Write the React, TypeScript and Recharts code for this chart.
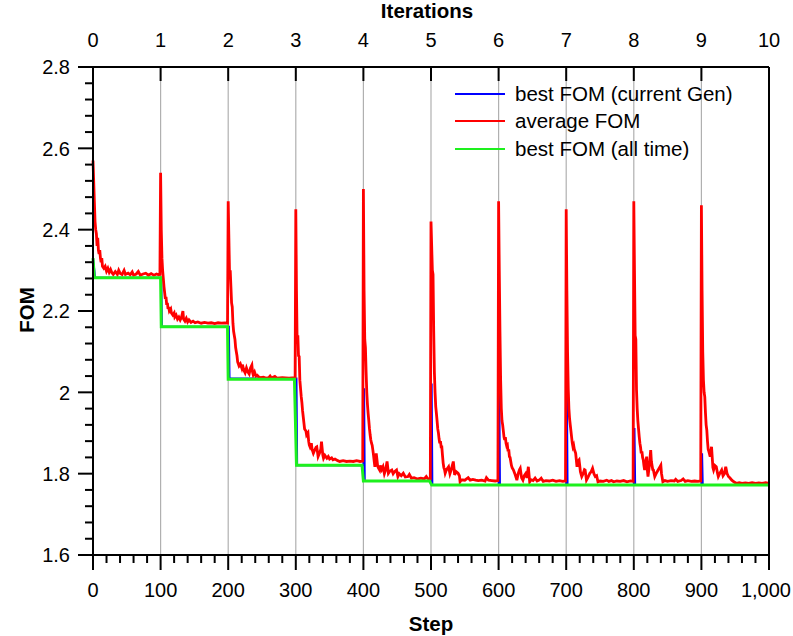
import React from 'react';
import { LineChart, Line, XAxis, YAxis, ReferenceLine } from 'recharts';

// step / FOM pairs
const AVG_FOM = [
  // gen 0
  [0, 2.57], [1, 2.52], [2, 2.47], [3, 2.42], [4, 2.4], [5, 2.39], [6, 2.36], [7, 2.38], [8, 2.35], [9, 2.34],
  [10, 2.35], [11, 2.33], [12, 2.32], [13, 2.33], [14, 2.31], [16, 2.305], [18, 2.31], [20, 2.298], [22, 2.305],
  [24, 2.295], [26, 2.302], [28, 2.294], [30, 2.29], [33, 2.297], [36, 2.29], [38, 2.3], [40, 2.293], [43, 2.29],
  [46, 2.3], [48, 2.29], [52, 2.293], [55, 2.289], [58, 2.296], [60, 2.288], [64, 2.291], [67, 2.297], [70, 2.288],
  [74, 2.291], [78, 2.293], [82, 2.288], [86, 2.292], [90, 2.288], [94, 2.291], [97, 2.289], [99, 2.29],
  // gen 1
  [100, 2.54], [101, 2.4], [102, 2.33], [103, 2.3], [104, 2.28], [105, 2.26], [106, 2.245], [107, 2.23],
  [108, 2.235], [109, 2.215], [110, 2.22], [111, 2.205], [112, 2.21], [113, 2.2], [115, 2.205], [116, 2.195],
  [118, 2.19], [120, 2.195], [121, 2.185], [123, 2.19], [125, 2.18], [127, 2.185], [129, 2.178], [131, 2.185],
  [133, 2.2], [134, 2.18], [136, 2.175], [138, 2.182], [140, 2.173], [142, 2.178], [145, 2.172], [148, 2.175],
  [151, 2.171], [155, 2.173], [160, 2.17], [165, 2.172], [170, 2.17], [175, 2.171], [180, 2.169], [185, 2.171],
  [190, 2.17], [195, 2.171], [199, 2.17],
  // gen 2
  [200, 2.47], [201, 2.38], [202, 2.29], [203, 2.3], [204, 2.26], [205, 2.22], [206, 2.21], [207, 2.17],
  [208, 2.15], [209, 2.14], [210, 2.13], [211, 2.11], [212, 2.1], [213, 2.09], [214, 2.075], [215, 2.07],
  [216, 2.065], [218, 2.07], [220, 2.06], [221, 2.068], [223, 2.055], [225, 2.048], [227, 2.06], [229, 2.05],
  [231, 2.045], [233, 2.06], [235, 2.067], [236, 2.05], [237, 2.043], [239, 2.05], [241, 2.04], [243, 2.042],
  [245, 2.038], [248, 2.036], [252, 2.037], [256, 2.035], [260, 2.036], [262, 2.04], [264, 2.035], [269, 2.039],
  [272, 2.035], [280, 2.036], [290, 2.035], [299, 2.036],
  // gen 3
  [300, 2.45], [301, 2.25], [302, 2.12], [303, 2.14], [304, 2.09], [305, 2.088], [306, 2.03], [307, 2.01],
  [308, 1.99], [309, 1.975], [310, 1.955], [311, 1.94], [312, 1.925], [313, 1.91], [315, 1.905], [316, 1.895],
  [318, 1.9], [319, 1.88], [320, 1.87], [321, 1.866], [323, 1.875], [324, 1.86], [326, 1.85], [328, 1.858],
  [330, 1.865], [331, 1.866], [333, 1.842], [335, 1.85], [337, 1.86], [338, 1.879], [340, 1.845], [341, 1.838],
  [343, 1.845], [346, 1.838], [348, 1.842], [350, 1.836], [353, 1.839], [355, 1.834], [358, 1.836], [362, 1.832],
  [365, 1.83], [370, 1.832], [375, 1.83], [380, 1.831], [385, 1.83], [390, 1.832], [395, 1.83], [399, 1.831],
  // gen 4
  [400, 2.5], [401, 2.25], [402, 2.13], [403, 2.11], [404, 2.05], [405, 2.0], [406, 1.97], [407, 1.948],
  [408, 1.93], [409, 1.91], [410, 1.895], [411, 1.883], [412, 1.875], [413, 1.87], [414, 1.858], [415, 1.845],
  [416, 1.83], [417, 1.817], [418, 1.835], [419, 1.85], [420, 1.835], [421, 1.82], [422, 1.815], [424, 1.809],
  [425, 1.82], [427, 1.81], [429, 1.817], [431, 1.8], [433, 1.81], [435, 1.83], [437, 1.801], [439, 1.806],
  [442, 1.809], [444, 1.8], [446, 1.805], [449, 1.809], [451, 1.793], [453, 1.8], [456, 1.795], [459, 1.801],
  [462, 1.792], [466, 1.793], [468, 1.798], [471, 1.789], [475, 1.79], [480, 1.787], [485, 1.789], [490, 1.787],
  [493, 1.793], [495, 1.788], [499, 1.787],
  // gen 5
  [500, 2.42], [501, 2.36], [502, 2.3], [503, 2.29], [504, 2.15], [505, 2.05], [506, 2.0], [507, 1.965],
  [508, 1.948], [509, 1.93], [510, 1.91], [511, 1.9], [512, 1.885], [513, 1.875], [514, 1.88], [515, 1.866],
  [516, 1.866], [517, 1.845], [518, 1.826], [519, 1.815], [520, 1.81], [521, 1.801], [523, 1.81], [526, 1.817],
  [528, 1.8], [530, 1.81], [533, 1.83], [535, 1.797], [537, 1.805], [540, 1.801], [542, 1.795], [543, 1.78],
  [545, 1.785], [550, 1.784], [555, 1.79], [558, 1.784], [562, 1.786], [566, 1.784], [570, 1.783], [575, 1.784],
  [580, 1.782], [582, 1.79], [585, 1.784], [590, 1.783], [595, 1.782], [599, 1.783],
  // gen 6
  [600, 2.47], [601, 2.3], [602, 2.15], [603, 2.03], [604, 1.96], [605, 1.93], [606, 1.92], [607, 1.905],
  [608, 1.89], [609, 1.883], [610, 1.89], [611, 1.875], [612, 1.868], [613, 1.87], [614, 1.855], [615, 1.86],
  [616, 1.842], [617, 1.84], [618, 1.83], [619, 1.82], [620, 1.815], [622, 1.809], [624, 1.8], [626, 1.79],
  [627, 1.784], [629, 1.8], [631, 1.81], [632, 1.813], [634, 1.79], [636, 1.784], [638, 1.795], [640, 1.8],
  [642, 1.79], [644, 1.817], [646, 1.78], [648, 1.785], [651, 1.783], [654, 1.789], [657, 1.782], [660, 1.784],
  [663, 1.789], [666, 1.781], [670, 1.783], [675, 1.782], [680, 1.784], [685, 1.781], [690, 1.783], [695, 1.781],
  [699, 1.782],
  // gen 7
  [700, 2.45], [701, 2.25], [702, 2.1], [703, 2.01], [704, 1.96], [705, 1.935], [706, 1.92], [707, 1.905],
  [708, 1.89], [709, 1.875], [710, 1.866], [711, 1.87], [712, 1.86], [713, 1.855], [714, 1.85], [716, 1.817],
  [717, 1.83], [719, 1.834], [720, 1.82], [721, 1.805], [723, 1.793], [725, 1.8], [727, 1.81], [728, 1.809],
  [730, 1.784], [732, 1.79], [735, 1.801], [737, 1.805], [739, 1.813], [741, 1.8], [743, 1.793], [745, 1.795],
  [747, 1.78], [750, 1.782], [755, 1.781], [760, 1.784], [763, 1.781], [767, 1.783], [770, 1.78], [775, 1.782],
  [780, 1.781], [785, 1.783], [790, 1.78], [795, 1.782], [799, 1.781],
  // gen 8
  [800, 2.47], [801, 2.3], [802, 2.14], [803, 2.13], [804, 2.006], [805, 1.96], [806, 1.93], [807, 1.91],
  [808, 1.891], [809, 1.875], [810, 1.865], [811, 1.85], [812, 1.855], [813, 1.84], [814, 1.834], [815, 1.82],
  [816, 1.809], [818, 1.83], [819, 1.842], [820, 1.81], [821, 1.793], [823, 1.82], [825, 1.858], [826, 1.83],
  [828, 1.81], [829, 1.809], [831, 1.793], [833, 1.8], [836, 1.809], [838, 1.815], [840, 1.821], [841, 1.8],
  [843, 1.78], [846, 1.783], [850, 1.781], [855, 1.783], [860, 1.782], [862, 1.786], [865, 1.781], [870, 1.783],
  [873, 1.787], [876, 1.781], [880, 1.783], [885, 1.781], [890, 1.782], [895, 1.781], [899, 1.782],
  // gen 9
  [900, 2.46], [901, 2.25], [902, 2.1], [903, 2.03], [904, 2.0], [905, 1.989], [906, 1.95], [907, 1.92],
  [908, 1.907], [909, 1.88], [910, 1.86], [911, 1.855], [913, 1.842], [914, 1.855], [915, 1.866], [916, 1.84],
  [917, 1.815], [918, 1.809], [920, 1.82], [922, 1.817], [924, 1.8], [925, 1.793], [927, 1.8], [930, 1.809],
  [932, 1.795], [934, 1.8], [936, 1.817], [938, 1.8], [940, 1.793], [942, 1.79], [945, 1.784], [948, 1.78],
  [952, 1.776], [956, 1.778], [960, 1.776], [965, 1.777], [970, 1.776], [975, 1.778], [980, 1.776], [985, 1.777],
  [990, 1.776], [995, 1.778], [1000, 1.776],
];

const BEST_GEN_FOM = [
  [0, 2.33], [2, 2.3], [3, 2.282], [101, 2.282], [102, 2.161], [201, 2.161], [202, 2.034], [301, 2.034],
  [302, 1.821], [400, 1.821], [401, 2.01], [402, 1.782], [500, 1.782], [501, 2.022], [502, 1.772], [600, 1.772],
  [601, 2.03], [602, 1.772], [700, 1.772], [701, 2.01], [702, 1.772], [800, 1.772], [801, 1.912], [802, 1.772],
  [900, 1.772], [901, 1.85], [902, 1.772], [1000, 1.772],
];

const BEST_ALL_FOM = [
  [0, 2.33], [2, 2.282], [100, 2.282], [101, 2.161], [199, 2.161], [200, 2.032], [298, 2.032], [301, 1.821],
  [398, 1.821], [400, 1.782], [498, 1.782], [501, 1.772], [1000, 1.772],
];

const STEP_LABELS = [0, 100, 200, 300, 400, 500, 600, 700, 800, 900, 1000];
const ITERATION_LABELS = [0, 1, 2, 3, 4, 5, 6, 7, 8, 9, 10];
const FOM_LABELS = [1.6, 1.8, 2, 2.2, 2.4, 2.6, 2.8];
const GRID_STEPS = [100, 200, 300, 400, 500, 600, 700, 800, 900];

// minor ticks: every 20 steps, every 0.04 FOM
const STEP_TICKS = Array.from({ length: 51 }, (_, i) => i * 20);
const FOM_TICKS = Array.from({ length: 31 }, (_, i) => Math.round((1.6 + i * 0.04) * 100) / 100);

const SERIES = [
  { name: 'best FOM (current Gen)', color: '#0000ff', width: 2, data: BEST_GEN_FOM },
  { name: 'average FOM', color: '#ff0000', width: 2.8, data: AVG_FOM },
  { name: 'best FOM (all time)', color: '#1ef01e', width: 3, data: BEST_ALL_FOM },
];

const FONT = "'Liberation Sans', Arial, sans-serif";
const TICK_FONT = 20;

const toPoints = (pairs: number[][]) => pairs.map(([step, fom]) => ({ step, fom }));

const BottomTick = (props: any) => {
  const { x, y, payload } = props;
  const major = STEP_LABELS.includes(payload.value);
  const last = payload.value === STEP_LABELS[STEP_LABELS.length - 1];
  return (
    <g>
      <line x1={x} x2={x} y1={y} y2={y + (major ? 15 : 8)} stroke="#000" strokeWidth={2} />
      {major && (
        <text
          x={last ? x + 22 : x}
          y={y + 42}
          textAnchor={last ? 'end' : 'middle'}
          fontSize={TICK_FONT}
          fontFamily={FONT}
          fill="#000"
        >
          {payload.value.toLocaleString('en-US')}
        </text>
      )}
    </g>
  );
};

const TopTick = (props: any) => {
  const { x, y, payload } = props;
  return (
    <g>
      <line x1={x} x2={x} y1={y} y2={y + 14} stroke="#000" strokeWidth={2} />
      <text x={x} y={y - 20} textAnchor="middle" fontSize={TICK_FONT} fontFamily={FONT} fill="#000">
        {payload.value}
      </text>
    </g>
  );
};

const LeftTick = (props: any) => {
  const { x, y, payload } = props;
  const major = FOM_LABELS.some((m) => Math.abs(m - payload.value) < 1e-6);
  return (
    <g>
      <line x1={x - (major ? 15 : 8)} x2={x} y1={y} y2={y} stroke="#000" strokeWidth={2} />
      {major && (
        <text x={x - 23} y={y} dy="0.36em" textAnchor="end" fontSize={TICK_FONT} fontFamily={FONT} fill="#000">
          {String(payload.value)}
        </text>
      )}
    </g>
  );
};

const titleStyle: React.CSSProperties = {
  position: 'absolute',
  fontFamily: FONT,
  fontWeight: 'bold',
  fontSize: 20.5,
  lineHeight: 1,
  whiteSpace: 'nowrap',
};

export default function App() {
  return (
    <div style={{ position: 'relative', width: 793, height: 636, background: '#fff', overflow: 'hidden' }}>
      <style>{'html, body { margin: 0; overflow: hidden; } .recharts-surface { overflow: visible; }'}</style>
      <LineChart width={793} height={636} margin={{ top: 17, right: 24, bottom: 21, left: 33 }}>
        <XAxis
          xAxisId="step"
          dataKey="step"
          type="number"
          domain={[0, 1000]}
          ticks={STEP_TICKS}
          interval={0}
          height={60}
          tickSize={0}
          tickMargin={0}
          tickLine={false}
          tick={<BottomTick />}
          axisLine={{ stroke: '#000', strokeWidth: 2 }}
        />
        <XAxis
          xAxisId="iter"
          dataKey="iter"
          orientation="top"
          type="number"
          domain={[0, 10]}
          allowDataOverflow
          ticks={ITERATION_LABELS}
          interval={0}
          height={50}
          tickSize={0}
          tickMargin={0}
          tickLine={false}
          tick={<TopTick />}
          axisLine={{ stroke: '#000', strokeWidth: 2 }}
        />
        <YAxis
          type="number"
          domain={[1.6, 2.8]}
          ticks={FOM_TICKS}
          interval={0}
          width={60}
          tickSize={0}
          tickMargin={0}
          tickLine={false}
          tick={<LeftTick />}
          axisLine={{ stroke: '#000', strokeWidth: 2 }}
        />
        {GRID_STEPS.map((s) => (
          <ReferenceLine key={s} xAxisId="step" x={s} stroke="#b0b0b0" strokeWidth={1.2} />
        ))}
        {SERIES.map((s) => (
          <Line
            key={s.name}
            xAxisId="step"
            data={toPoints(s.data)}
            dataKey="fom"
            name={s.name}
            type="linear"
            stroke={s.color}
            strokeWidth={s.width}
            dot={false}
            activeDot={false}
            isAnimationActive={false}
          />
        ))}
        <ReferenceLine xAxisId="step" x={1000} stroke="#000" strokeWidth={2} />
      </LineChart>

      <div style={{ ...titleStyle, left: 427, top: 1, transform: 'translateX(-50%)' }}>Iterations</div>
      <div style={{ ...titleStyle, left: 431, top: 614, transform: 'translateX(-50%)' }}>Step</div>
      <div
        style={{
          ...titleStyle,
          left: 27,
          top: 310,
          transform: 'translate(-50%, -50%) rotate(-90deg)',
        }}
      >
        FOM
      </div>

      <div style={{ position: 'absolute', left: 455, top: 80, fontFamily: FONT }}>
        {SERIES.map((s) => (
          <div key={s.name} style={{ display: 'flex', alignItems: 'center', height: 27.5 }}>
            <span style={{ display: 'inline-block', width: 50, height: 2, background: s.color, marginRight: 10 }} />
            <span style={{ fontSize: 20.5, color: '#000', lineHeight: 1 }}>{s.name}</span>
          </div>
        ))}
      </div>
    </div>
  );
}
